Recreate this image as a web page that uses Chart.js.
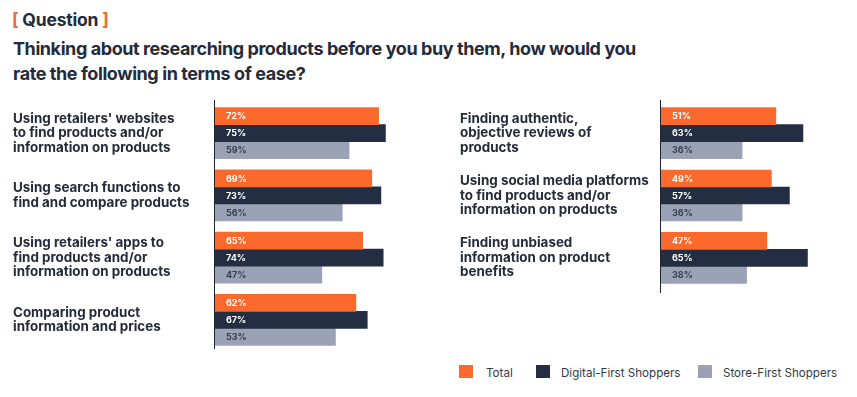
<!DOCTYPE html>
<html>
<head>
<meta charset="utf-8">
<script src="https://cdn.jsdelivr.net/npm/chart.js@4"></script>
<style>
  html, body { margin: 0; padding: 0; background: #ffffff; }
  body { width: 857px; height: 397px; position: relative; overflow: hidden; font-family: Inter, "Noto Sans", sans-serif; color: #252b3a; }
  #q { position: absolute; left: 12px; top: 9px; font-size: 17.5px; font-weight: 700; line-height: 22px; letter-spacing: -0.2px; }
  #q .br { color: #f26a2e; }
  #h { position: absolute; left: 13px; top: 36px; font-size: 18px; font-weight: 700; line-height: 25px; letter-spacing: -0.42px; width: 660px; }
  .wrap { position: absolute; }
  #leftWrap { left: 0; top: 78px; width: 440px; height: 297px; }
  #rightWrap { left: 448px; top: 78px; width: 409px; height: 235px; }
  .lg { position: absolute; font-size: 11.6px; color: #333a48; top: 366px; line-height: 14px; }
  .sw { position: absolute; top: 365px; width: 14px; height: 13px; }
</style>
</head>
<body>
<div id="q"><span class="br">[</span> Question <span class="br">]</span></div>
<div id="h">Thinking about researching products before you buy them, how would you<br>rate the following in terms of ease?</div>
<div class="wrap" id="leftWrap"><canvas id="left"></canvas></div>
<div class="wrap" id="rightWrap"><canvas id="right"></canvas></div>
<div id="legend"></div>
<script>
// ---- Data ----
const seriesNames = ["Total", "Digital-First Shoppers", "Store-First Shoppers"];
const leftCategories = [
  ["Using retailers' websites", "to find products and/or", "information on products"],
  ["Using search functions to", "find and compare products"],
  ["Using retailers' apps to", "find products and/or", "information on products"],
  ["Comparing product", "information and prices"]
];
const leftTotal   = [72, 69, 65, 62];
const leftDigital = [75, 73, 74, 67];
const leftStore   = [59, 56, 47, 53];

const rightCategories = [
  ["Finding authentic,", "objective reviews of", "products"],
  ["Using social media platforms", "to find products and/or", "information on products"],
  ["Finding unbiased", "information on product", "benefits"]
];
const rightTotal   = [51, 49, 47];
const rightDigital = [63, 57, 65];
const rightStore   = [36, 36, 38];

// ---- Styles ----
const colors = ["#fb6a2c", "#232e43", "#9ca2b6"];
const labelColors = ["#ffffff", "#ffffff", "#353c50"];
const FONT = "Inter, 'Noto Sans', sans-serif";

const valueLabels = {
  id: 'valueLabels',
  afterDatasetsDraw(chart) {
    const ctx = chart.ctx;
    ctx.save();
    ctx.font = "700 9px " + FONT;
    ctx.textBaseline = 'middle';
    ctx.textAlign = 'left';
    chart.data.datasets.forEach((ds, di) => {
      const meta = chart.getDatasetMeta(di);
      meta.data.forEach((bar, i) => {
        ctx.fillStyle = labelColors[di];
        ctx.fillText(ds.data[i] + '%', bar.base + 11, bar.y + 0.5);
      });
    });
    ctx.restore();
  }
};

const axisLine = {
  id: 'axisLine',
  afterDatasetsDraw(chart, args, opts) {
    const ctx = chart.ctx, a = chart.chartArea;
    ctx.save();
    ctx.strokeStyle = '#1e2333';
    ctx.lineWidth = 1;
    ctx.beginPath();
    ctx.moveTo(a.left - 0.5, a.top - 2);
    ctx.lineTo(a.left - 0.5, a.bottom + opts.extra);
    ctx.stroke();
    ctx.restore();
  }
};

function makeChart(id, cats, t, d, s, xmax, padLeft, axisWidth, extra) {
  const data = [t, d, s];
  return new Chart(document.getElementById(id), {
    type: 'bar',
    data: {
      labels: cats,
      datasets: seriesNames.map((n, i) => ({
        label: n,
        data: data[i],
        backgroundColor: colors[i],
        borderWidth: 0,
        barThickness: 17
      }))
    },
    options: {
      indexAxis: 'y',
      responsive: true,
      maintainAspectRatio: false,
      animation: false,
      events: [],
      layout: { padding: { left: padLeft, right: 0, top: 24, bottom: 24 } },
      plugins: {
        legend: { display: false },
        tooltip: { enabled: false },
        axisLine: { extra: extra }
      },
      scales: {
        x: { display: false, min: 0, max: xmax },
        y: {
          grid: { display: false, drawTicks: false },
          border: { display: false },
          ticks: {
            crossAlign: 'far',
            padding: 0,
            color: '#252b3a',
            font: { family: FONT, size: 13.4, weight: '700', lineHeight: '14.5px' }
          },
          afterFit(scale) { scale.width = axisWidth; }
        }
      }
    },
    plugins: [valueLabels, axisLine]
  });
}

makeChart('left', leftCategories, leftTotal, leftDigital, leftStore, 99, 13, 202, -2);
makeChart('right', rightCategories, rightTotal, rightDigital, rightStore, 87, 12, 201, 4);

// ---- Legend ----
const legendPos = [[459, 486], [536, 561], [698, 723]];
const lg = document.getElementById('legend');
seriesNames.forEach((n, i) => {
  const sw = document.createElement('div');
  sw.className = 'sw';
  sw.style.left = legendPos[i][0] + 'px';
  sw.style.background = colors[i];
  lg.appendChild(sw);
  const t = document.createElement('div');
  t.className = 'lg';
  t.style.left = legendPos[i][1] + 'px';
  t.textContent = n;
  lg.appendChild(t);
});
</script>
</body>
</html>
